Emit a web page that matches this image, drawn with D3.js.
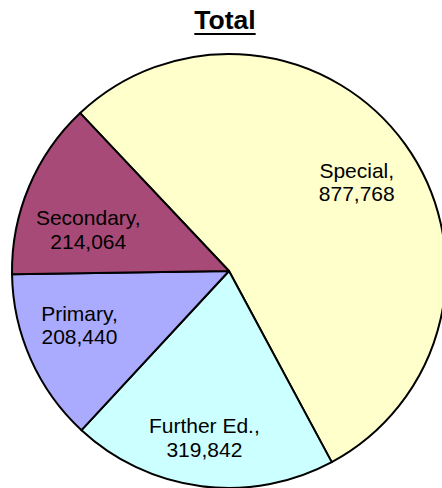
<!DOCTYPE html>
<html>
<head>
<meta charset="utf-8">
<script src="https://cdn.jsdelivr.net/npm/d3@7"></script>
<style>
  body { margin: 0; background: #fff; }
  svg { display: block; font-family: "Liberation Sans", Arial, sans-serif; }
</style>
</head>
<body>
<div id="chart"></div>
<script>
const width = 442,
  height = 488,
  cx = 229,
  cy = 271,
  radius = 217;

// DATA
const categories = ["Special", "Further Ed.", "Primary", "Secondary"];
const values = [877768, 319842, 208440, 214064];
const colors = ["#FFFFCC", "#CCFFFF", "#AAAAFF", "#A84A77"];

// small label nudges (Excel best-fit placement)
const labelNudge = {
  "Special": [2, 9],
  "Further Ed.": [-5, 20],
  "Primary": [-8, -2],
  "Secondary": [2, 26],
};

const data = categories.map((c, i) => ({ name: c, value: values[i], color: colors[i] }));

const svg = d3
  .select("#chart")
  .append("svg")
  .attr("width", width)
  .attr("height", height);

// title
const title = svg
  .append("text")
  .attr("x", 225)
  .attr("y", 29)
  .attr("text-anchor", "middle")
  .attr("font-size", 26.5)
  .attr("font-weight", "bold")
  .text("Total");

const tb = title.node().getBBox();
svg
  .append("rect")
  .attr("x", tb.x)
  .attr("y", 33)
  .attr("width", tb.width)
  .attr("height", 2)
  .attr("fill", "#000");

const startA = -43.3 * Math.PI / 180;
const pie = d3
  .pie()
  .sort(null)
  .value(d => d.value)
  .startAngle(startA)
  .endAngle(startA + 2 * Math.PI);

const arc = d3.arc().innerRadius(0).outerRadius(radius);
const labelArc = d3.arc().innerRadius(155).outerRadius(155);

const g = svg.append("g").attr("transform", `translate(${cx},${cy})`);

const arcs = pie(data);

g.selectAll("path.slice")
  .data(arcs)
  .join("path")
  .attr("class", "slice")
  .attr("d", arc)
  .attr("fill", d => d.data.color)
  .attr("stroke", "#000")
  .attr("stroke-width", 2)
  .attr("stroke-linejoin", "round");

const fmt = d3.format(",");

const labels = g
  .selectAll("text.label")
  .data(arcs)
  .join("text")
  .attr("class", "label")
  .attr("text-anchor", "middle")
  .attr("font-size", 21)
  .attr("fill", "#000")
  .attr("transform", d => {
    const [x, y] = labelArc.centroid(d);
    const n = labelNudge[d.data.name];
    return `translate(${x + n[0]},${y + n[1]})`;
  });

labels.append("tspan").attr("x", 0).attr("y", -11.5).text(d => d.data.name + ",");
labels.append("tspan").attr("x", 0).attr("y", 12).text(d => fmt(d.data.value));
</script>
</body>
</html>
